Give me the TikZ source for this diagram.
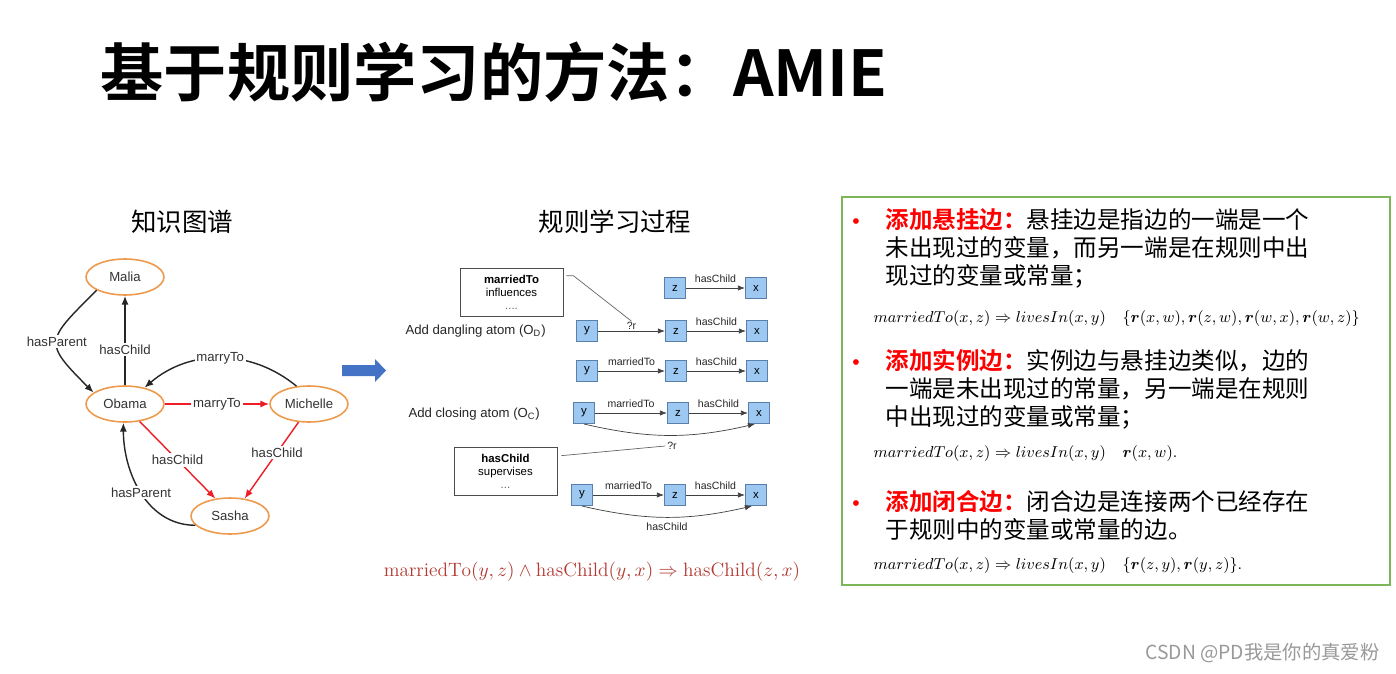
\documentclass[tikz,border=0pt]{standalone}
\usepackage{amsmath}
\usepackage{fontspec}
\setsansfont{Liberation Sans}
\newfontfamily\cjk[BoldFont={Noto Sans CJK SC Bold}]{Noto Sans CJK SC}
\usepackage{tikz}
\usetikzlibrary{positioning, calc}
\usetikzlibrary{shapes.geometric, arrows.meta}

\definecolor{entorange}{HTML}{EE9A4D}
\definecolor{relred}{HTML}{EE1C25}
\definecolor{varfill}{HTML}{9CC8F2}
\definecolor{varline}{HTML}{5A7FA8}
\definecolor{arrowblue}{HTML}{4472C4}
\definecolor{boxgreen}{HTML}{7CB55A}
\definecolor{formred}{HTML}{B23A32}

\begin{document}
\begin{tikzpicture}[x=0.02cm, y=-0.02cm, on grid, semithick,
  ent/.style={ellipse, draw=entorange, line width=0.9pt, fill=white, minimum width=1.56cm, minimum height=0.72cm, inner sep=0, font=\sffamily\fontsize{7.5}{9}\selectfont, text=black!80},
  rel/.style={fill=white, inner sep=1pt, font=\sffamily\fontsize{7.5}{9}\selectfont, text=black!80},
  kg/.style={-{Latex[length=5pt,width=4pt]}, line width=0.8pt, black!85},
  kgred/.style={kg, relred},
  var/.style={draw=varline, fill=varfill, minimum size=0.42cm, inner sep=0, font=\sffamily\fontsize{6.5}{8}\selectfont},
  rule/.style={-{Latex[length=4pt,width=3pt]}, thin, black!75},
  lab/.style={font=\sffamily\fontsize{6}{7}\selectfont, inner sep=1pt, text=black!85},
  cand/.style={draw=black!70, thin, minimum width=2.06cm, minimum height=0.96cm, align=center, font=\sffamily\fontsize{6.5}{7.4}\selectfont},
  atom/.style={anchor=west, inner sep=0, font=\sffamily\fontsize{7.5}{9}\selectfont, text=black!85},
  head/.style={font=\cjk\fontsize{14.5}{16}\selectfont},
  para/.style={anchor=north west, inner sep=0, align=left, font=\cjk\fontsize{13.4}{15.9}\selectfont},
  rulef/.style={anchor=west, inner sep=0, font=\fontsize{9.5}{11}\selectfont},
  dot/.style={text=red, font=\sffamily\fontsize{12}{12}\selectfont, inner sep=0}]
\path[use as bounding box, fill=white] (0,0) rectangle (1396,673);

\node[anchor=west, inner sep=0, font=\cjk\bfseries\fontsize{36}{40}\selectfont] (title) at (100,72) {基于规则学习的方法：AMIE};

% knowledge graph
\node[head] (kgtitle) at (182,222) {知识图谱};
\node[ent] (Ma) at (125,277) {Malia};
\node[ent] (Ob) at (125,404) {Obama};
\node[ent] (Mi) at (309,404) {Michelle};
\node[ent] (Sa) at (230,516) {Sasha};
\draw[kg] (Ob) -- node[rel, pos=0.4] {hasChild} (Ma);
\draw[kg] (Ma.205) to[out=225, in=135, looseness=1.8] node[rel] {hasParent} (Ob.160);
\draw[kg] (Mi.125) to[bend right=40] node[rel] {marryTo} (Ob.40);
\draw[kgred] (Ob) -- node[rel] {marryTo} (Mi);
\draw[kgred] (Ob.-50) -- node[rel] {hasChild} (Sa.130);
\draw[kgred] (Mi.-120) -- node[rel, pos=0.4] {hasChild} (Sa.50);
\draw[kg] (Sa.195) to[out=180, in=-90] node[rel] {hasParent} (Ob.-95);

\fill[arrowblue] (342,365) -- (375,365) -- (375,359) -- (386,370.5) -- (375,382) -- (375,376) -- (342,376) -- cycle;

% rule learning
\node[head] (rltitle) at (615,222) {规则学习过程};
\node[cand] (B1) at (511.5,292) {\textbf{marriedTo}\\influences\\\textcolor{black!60}{....}};
\node[cand] (B2) at (505.5,471) {\textbf{hasChild}\\supervises\\\textcolor{black!60}{...}};

\node[var] (Z1) at (675,288) {z};
\node[var, right=1.62cm of Z1] (X1) {x};
\draw[rule] (Z1) -- node[lab, above=2pt] {hasChild} (X1);

\node[atom] (dang) at (405,331) {Add dangling atom (O\textsubscript{D})};
\node[var] (Y2) at (587,331) {y};
\node[var, right=1.78cm of Y2] (Z2) {z};
\node[var, right=1.62cm of Z2] (X2) {x};
\draw[rule] (Y2) -- node[lab, above, inner sep=0.5pt] (qr1) {?r} (Z2);
\draw[rule] (Z2) -- node[lab, above=2pt] {hasChild} (X2);
\draw[thin, black!60] ($(B1.north east)+(3,8)$) -- ($(B1.north east)+(10,8)$) -- (qr1.north);

\node[var] (Y3) at (587,371) {y};
\node[var, right=1.78cm of Y3] (Z3) {z};
\node[var, right=1.62cm of Z3] (X3) {x};
\draw[rule] (Y3) -- node[lab, above=2pt] {marriedTo} (Z3);
\draw[rule] (Z3) -- node[lab, above=2pt] {hasChild} (X3);

\node[atom] (clos) at (408,414) {Add closing atom (O\textsubscript{C})};
\node[var] (Y4) at (584,413) {y};
\node[var, right=1.88cm of Y4] (Z4) {z};
\node[var, right=1.62cm of Z4] (X4) {x};
\draw[rule] (Y4) -- node[lab, above=2pt] {marriedTo} (Z4);
\draw[rule] (Z4) -- node[lab, above=2pt] {hasChild} (X4);
\draw[rule] (Y4.south) to[bend right=13] (X4.-110);

\node[lab] (qr2) at (672,446) {?r};
\draw[thin, black!60] ($(B2.north east)+(4,9)$) -- (qr2.west);
\node[var] (Y5) at (582,495) {y};
\node[var, right=1.86cm of Y5] (Z5) {z};
\node[var, right=1.62cm of Z5] (X5) {x};
\draw[rule] (Y5) -- node[lab, above=2pt] {marriedTo} (Z5);
\draw[rule] (Z5) -- node[lab, above=2pt] {hasChild} (X5);
\draw[rule] (Y5.south) to[bend right=13] node[lab, below=2pt] {hasChild} (X5.-110);

\node[font=\fontsize{11}{13}\selectfont, text=formred] (amie) at (592,572) {$\mathrm{marriedTo}(y,z)\land\mathrm{hasChild}(y,x)\Rightarrow\mathrm{hasChild}(z,x)$};

% operators
\draw[boxgreen, line width=0.9pt] (842,197) rectangle (1390,585);
\node[dot] (b1) at (856,224) {•};
\node[para] (p1) at (885,208) {\textcolor{red}{\bfseries 添加悬挂边：}悬挂边是指边的一端是一个\\未出现过的变量，而另一端是在规则中出\\现过的变量或常量；};
\node[rulef] (f1) at (873,319) {$marriedTo(x,z)\Rightarrow livesIn(x,y)\quad\{\boldsymbol{r}(x,w),\boldsymbol{r}(z,w),\boldsymbol{r}(w,x),\boldsymbol{r}(w,z)\}$};
\node[dot] (b2) at (856,365) {•};
\node[para] (p2) at (885,349) {\textcolor{red}{\bfseries 添加实例边：}实例边与悬挂边类似，边的\\一端是未出现过的常量，另一端是在规则\\中出现过的变量或常量；};
\node[rulef] (f2) at (873,454) {$marriedTo(x,z)\Rightarrow livesIn(x,y)\quad\boldsymbol{r}(x,w).$};
\node[dot] (b3) at (856,506) {•};
\node[para] (p3) at (885,490) {\textcolor{red}{\bfseries 添加闭合边：}闭合边是连接两个已经存在\\于规则中的变量或常量的边。};
\node[rulef] (f3) at (873,566) {$marriedTo(x,z)\Rightarrow livesIn(x,y)\quad\{\boldsymbol{r}(z,y),\boldsymbol{r}(y,z)\}.$};

\node[anchor=east, inner sep=0, text=black!40, font=\cjk\fontsize{11}{13}\selectfont] (wm) at (1380,653) {CSDN @PD我是你的真爱粉};
\end{tikzpicture}
\end{document}
